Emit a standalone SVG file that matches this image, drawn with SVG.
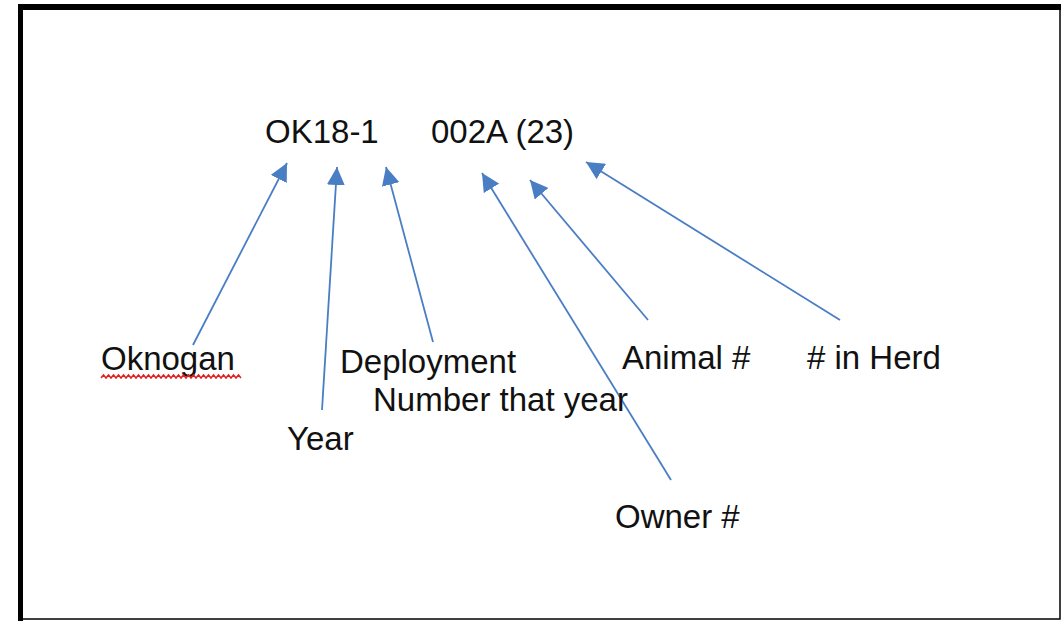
<svg xmlns="http://www.w3.org/2000/svg" width="1062" height="621" viewBox="0 0 1062 621">
<style>
.t{font-family:"Liberation Sans",Arial,sans-serif;font-size:33px;fill:#111}
.c{stroke:#4A7EC4;stroke-width:1.8;fill:none;marker-end:url(#ah)}
</style>
<defs>
<marker id="ah" markerUnits="userSpaceOnUse" markerWidth="20" markerHeight="18" refX="18" refY="9" orient="auto">
<path d="M0,0 L18,9 L0,18 Z" fill="#4A7EC4"/>
</marker>
</defs>
<rect width="1062" height="621" fill="#fff"/>
<g id="frame">
<rect x="20.5" y="7" width="1039.5" height="612" fill="#fff" stroke="#000" stroke-width="1.5"/>
<rect x="18" y="4" width="5" height="617" fill="#000"/>
<rect x="18" y="4" width="1043" height="6" fill="#000"/>
</g>
<g id="connectors">
<line class="c" x1="193" y1="345" x2="287" y2="163"/>
<line class="c" x1="322" y1="410" x2="337" y2="167"/>
<line class="c" x1="433" y1="342" x2="386" y2="167"/>
<line class="c" x1="671" y1="480" x2="482" y2="173"/>
<line class="c" x1="648" y1="320" x2="530" y2="180"/>
<line class="c" x1="840" y1="320" x2="586" y2="162"/>
</g>
<g id="code"><text class="t" x="265" y="143">OK18-1</text><text class="t" x="431" y="143">002A (23)</text></g>
<g id="oknogan"><text class="t" x="101" y="370">Oknogan</text>
<path d="M101,378 l2.5,-3 l2.5,3 l2.5,-3 l2.5,3 l2.5,-3 l2.5,3 l2.5,-3 l2.5,3 l2.5,-3 l2.5,3 l2.5,-3 l2.5,3 l2.5,-3 l2.5,3 l2.5,-3 l2.5,3 l2.5,-3 l2.5,3 l2.5,-3 l2.5,3 l2.5,-3 l2.5,3 l2.5,-3 l2.5,3 l2.5,-3 l2.5,3 l2.5,-3 l2.5,3 l2.5,-3 l2.5,3 l2.5,-3 l2.5,3 l2.5,-3 l2.5,3 l2.5,-3 l2.5,3 l2.5,-3 l2.5,3 l2.5,-3 l2.5,3 l2.5,-3 l2.5,3 l2.5,-3 l2.5,3 l2.5,-3 l2.5,3 l2.5,-3 l2.5,3 l2.5,-3 l2.5,3 l2.5,-3 l2.5,3 l2.5,-3 l2.5,3 l2.5,-3 l2.5,3" fill="none" stroke="#e02020" stroke-width="1.5"/></g>
<g id="year"><text class="t" x="287" y="450">Year</text></g>
<g id="deployment"><text class="t" x="340" y="373">Deployment</text><text class="t" x="373" y="411">Number that year</text></g>
<g id="animal"><text class="t" x="622" y="369">Animal #</text></g>
<g id="herd"><text class="t" x="807" y="369"># in Herd</text></g>
<g id="owner"><text class="t" x="615" y="528">Owner #</text></g>
</svg>
